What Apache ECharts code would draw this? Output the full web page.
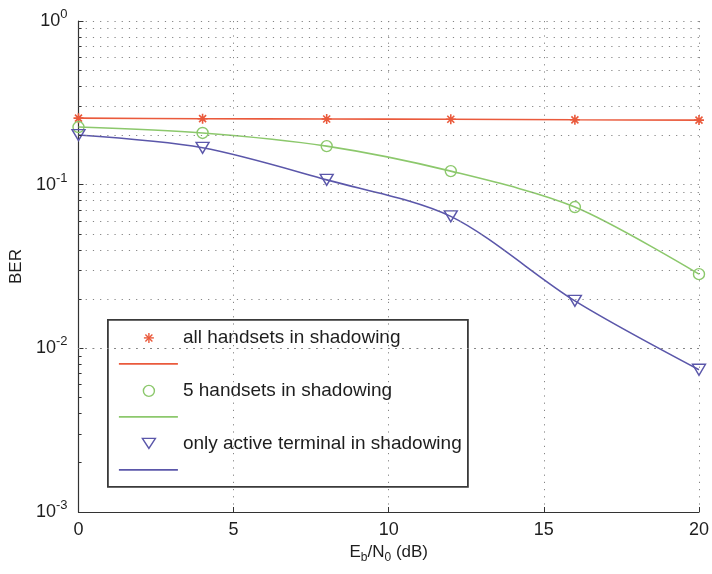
<!DOCTYPE html>
<html>
<head>
<meta charset="utf-8">
<script src="https://cdn.jsdelivr.net/npm/echarts@6/dist/echarts.min.js"></script>
<style>
html,body{margin:0;padding:0;background:#fff;}
#chart{width:712px;height:574px;}
</style>
</head>
<body>
<div id="chart"></div>
<script>
// ---- data ----
var ebn0 = [0, 4, 8, 12, 16, 20];
var berAll = [0.255, 0.253, 0.252, 0.251, 0.249, 0.248];
var ber5 = [0.225, 0.207, 0.172, 0.121, 0.073, 0.0284];
var berActive = [0.201, 0.168, 0.107, 0.064, 0.0195, 0.0074];
var seriesNames = ['all handsets in shadowing', '5 handsets in shadowing', 'only active terminal in shadowing'];
var xTicks = [0, 5, 10, 15, 20];
var yDecades = [-3, -2, -1, 0];
var minorMultipliers = [2, 3, 4, 5, 6, 7, 8, 9];

var RED = '#ea5a3c', GREEN = '#8cc86c', BLUE = '#5b57aa';
var FONT = '"Liberation Sans", Arial, sans-serif';
var TXT = '#1e1e1e';

function pairs(xs, ys) { return xs.map(function (x, i) { return [x, ys[i]]; }); }

var minorValues = [];
yDecades.slice(0, 3).forEach(function (d) {
  minorMultipliers.forEach(function (m) { minorValues.push(m * Math.pow(10, d)); });
});

var STAR = 'path://M5,0L5,10M0,5L10,5M1.5,1.5L8.5,8.5M8.5,1.5L1.5,8.5';
var TRI = 'path://M0,0L10,0L5,8.66Z';
var dotted = { color: '#858585', width: 1, type: [1.2, 6] };

var chart = echarts.init(document.getElementById('chart'), null, { renderer: 'canvas' });

var option = {
  backgroundColor: '#fff',
  animation: false,
  textStyle: { fontFamily: FONT },
  grid: { left: 77, right: 11, top: 21, bottom: 62, containLabel: false },
  xAxis: {
    type: 'value', min: 0, max: 20, interval: 5,
    name: '{n|E}{sub|b}{n|/N}{sub|0}{n| (dB)}',
    nameLocation: 'middle', nameGap: 28,
    nameTextStyle: {
      rich: {
        n: { fontSize: 17, color: TXT, lineHeight: 22, verticalAlign: 'middle', fontFamily: FONT },
        sub: { fontSize: 12, color: TXT, lineHeight: 10, verticalAlign: 'bottom', fontFamily: FONT }
      }
    },
    axisLine: { show: true, lineStyle: { color: '#333', width: 1.2 } },
    axisTick: { show: true, inside: true, length: 5, lineStyle: { color: '#333' } },
    axisLabel: { fontSize: 18, color: TXT, margin: 9, fontFamily: FONT },
    splitLine: { show: true, lineStyle: dotted }
  },
  yAxis: {
    type: 'log', logBase: 10, min: 0.001, max: 1, interval: 1,
    name: 'BER', nameLocation: 'middle', nameGap: 50,
    nameTextStyle: { fontSize: 17, color: TXT, fontFamily: FONT },
    axisLine: { show: true, lineStyle: { color: '#333', width: 1.2 } },
    axisTick: { show: true, inside: true, length: 5, lineStyle: { color: '#333' } },
    axisLabel: {
      margin: 11,
      formatter: function (v) {
        var e = Math.round(Math.log10(v));
        return '{b|10}{s|' + (e < 0 ? '-' + (-e) : e) + '}';
      },
      rich: {
        b: { fontSize: 18, color: TXT, lineHeight: 26, verticalAlign: 'middle', fontFamily: FONT },
        s: { fontSize: 13, color: TXT, lineHeight: 13, verticalAlign: 'top', fontFamily: FONT }
      }
    },
    splitLine: { show: true, lineStyle: dotted }
  },
  series: [
    {
      type: 'line', data: [], silent: true, z: 0,
      markLine: {
        silent: true, symbol: 'none', label: { show: false },
        lineStyle: dotted, animation: false,
        data: minorValues.map(function (v) { return { yAxis: v }; })
      }
    },
    {
      type: 'line', data: [], silent: true, z: 1,
      markLine: {
        silent: true, symbol: 'none', label: { show: false },
        lineStyle: { color: '#333', width: 1, type: 'solid' }, animation: false,
        data: minorValues.map(function (v) { return [{ coord: [0, v] }, { coord: [0.1, v] }]; })
      }
    },
    {
      name: seriesNames[0], type: 'line', smooth: 0.3, data: pairs(ebn0, berAll),
      symbol: STAR, symbolSize: 10,
      lineStyle: { color: RED, width: 1.6 },
      itemStyle: { color: 'rgba(0,0,0,0)', borderColor: RED, borderWidth: 1.6 }
    },
    {
      name: seriesNames[1], type: 'line', smooth: 0.3, data: pairs(ebn0, ber5),
      symbol: 'circle', symbolSize: 11,
      lineStyle: { color: GREEN, width: 1.6 },
      itemStyle: { color: 'rgba(0,0,0,0)', borderColor: GREEN, borderWidth: 1.4 }
    },
    {
      name: seriesNames[2], type: 'line', smooth: 0.3, data: pairs(ebn0, berActive),
      symbol: TRI, symbolSize: [13, 11],
      lineStyle: { color: BLUE, width: 1.6 },
      itemStyle: { color: 'rgba(0,0,0,0)', borderColor: BLUE, borderWidth: 1.4 }
    }
  ],
  graphic: [
    {
      type: 'group', left: 107, top: 319, z: 100,
      children: [
        { type: 'rect', shape: { x: 0, y: 0, width: 360, height: 167 }, style: { fill: '#fff', stroke: '#3a3a3a', lineWidth: 1.8 } },
        // entry 1: star
        { type: 'line', shape: { x1: 37.5, y1: 14.5, x2: 44.5, y2: 21.5 }, style: { stroke: RED, lineWidth: 1.4 } },
        { type: 'line', shape: { x1: 44.5, y1: 14.5, x2: 37.5, y2: 21.5 }, style: { stroke: RED, lineWidth: 1.4 } },
        { type: 'line', shape: { x1: 41, y1: 13, x2: 41, y2: 23 }, style: { stroke: RED, lineWidth: 1.4 } },
        { type: 'line', shape: { x1: 36, y1: 18, x2: 46, y2: 18 }, style: { stroke: RED, lineWidth: 1.4 } },
        { type: 'text', x: 75, y: 18, style: { text: seriesNames[0], font: '19px ' + FONT, fill: TXT, verticalAlign: 'middle' } },
        { type: 'line', shape: { x1: 11, y1: 44, x2: 70, y2: 44 }, style: { stroke: RED, lineWidth: 1.6 } },
        // entry 2: circle
        { type: 'circle', shape: { cx: 41, cy: 71, r: 5.5 }, style: { fill: 'none', stroke: GREEN, lineWidth: 1.4 } },
        { type: 'text', x: 75, y: 71, style: { text: seriesNames[1], font: '19px ' + FONT, fill: TXT, verticalAlign: 'middle' } },
        { type: 'line', shape: { x1: 11, y1: 97, x2: 70, y2: 97 }, style: { stroke: GREEN, lineWidth: 1.6 } },
        // entry 3: triangle
        { type: 'polygon', shape: { points: [[34.5, 118.5], [47.5, 118.5], [41, 128.5]] }, style: { fill: 'none', stroke: BLUE, lineWidth: 1.4 } },
        { type: 'text', x: 75, y: 124, style: { text: seriesNames[2], font: '19px ' + FONT, fill: TXT, verticalAlign: 'middle' } },
        { type: 'line', shape: { x1: 11, y1: 150, x2: 70, y2: 150 }, style: { stroke: BLUE, lineWidth: 1.6 } }
      ]
    }
  ]
};
chart.setOption(option);
</script>
</body>
</html>
